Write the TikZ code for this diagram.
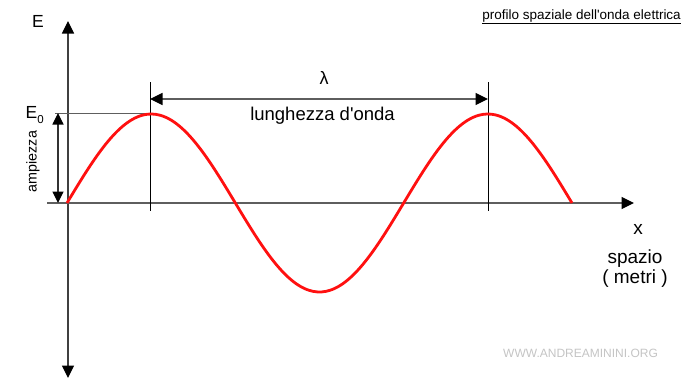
\documentclass[tikz,border=0pt]{standalone}
\usepackage{fontspec}
\setmainfont{Liberation Sans}
\newfontfamily\plainarial{Liberation Sans}
\usetikzlibrary{arrows.meta}
\definecolor{axisgray}{HTML}{5E5E5E}
\definecolor{wavered}{HTML}{FF1010}
\definecolor{markgray}{HTML}{C4C4C4}
\begin{document}
\begin{tikzpicture}[x=1pt,y=-1pt,
  tip/.tip={Triangle[length=12.5pt,width=12pt,color=black]},
  smalltip/.tip={Triangle[length=11.5pt,width=11pt,color=black]},
  axisline/.style={draw=axisgray,line width=1.2pt},
  guideline/.style={draw=black,line width=1pt},
  wave/.style={draw=wavered,line width=2.8pt},
  lbl/.style={inner sep=0pt,anchor=center,font=\plainarial\fontsize{19}{22}\selectfont},
  small/.style={inner sep=0pt,anchor=center,font=\plainarial\fontsize{13.5}{16}\selectfont}]
\useasboundingbox (0,0) rectangle (683,380);
% coordinates
\coordinate (yb) at (68,378);
\coordinate (yt) at (68,21);
\coordinate (xl) at (47,203);
\coordinate (xr) at (634,203);
\coordinate (p1t) at (150,82);
\coordinate (p1b) at (150,211);
\coordinate (p2t) at (488,82);
\coordinate (p2b) at (488,211);
\coordinate (la1) at (150,99);
\coordinate (la2) at (488,99);
\coordinate (e0l) at (55,113);
\coordinate (e0r) at (150,113);
\coordinate (am1) at (58,113);
\coordinate (am2) at (58,203);
% axes
\draw[axisline,draw=black!75,{tip}-{tip}] (yb) -- (yt);
\draw[axisline,-{tip}] (xl) -- (xr);
% guide lines
\draw[guideline] (p1t) -- (p1b);
\draw[guideline] (p2t) -- (p2b);
\draw[axisline,line width=1pt] (e0l) -- (e0r);
\draw[axisline,{tip}-{tip}] (la1) -- (la2);
\draw[axisline,draw=black!80,{smalltip}-{smalltip}] (am1) -- (am2);
% wave
\draw[wave] plot[smooth,domain=67:572,samples=120] (\x,{203-89*sin((\x-67)/336.67*360)});
% labels
\node[lbl,font=\plainarial\fontsize{17.5}{20}\selectfont] (E) at (38,21) {E};
\node[lbl,font=\plainarial\fontsize{17.5}{20}\selectfont,anchor=base west] (E0) at (25.5,118.5) {E\raisebox{-0.28em}{\fontsize{11.5}{12}\selectfont 0}};
\node[small,font=\plainarial\fontsize{14.3}{16}\selectfont,rotate=90] (amp) at (33,161.5) {ampiezza};
\node[lbl,font=\plainarial\fontsize{18}{20}\selectfont] (lam) at (324,78) {λ};
\node[lbl,font=\plainarial\fontsize{18.5}{22}\selectfont] (lo) at (322.5,116) {lunghezza d'onda};
\node[lbl] (xlab) at (638,229) {x};
\node[lbl] (sp) at (635,259) {spazio};
\node[lbl] (me) at (635,279) {( metri )};
\node[small,anchor=east] (title) at (681,17) {\underline{profilo spaziale dell'onda elettrica}};
\node[small,font=\plainarial\fontsize{12}{14}\selectfont,text=markgray] (wm) at (580.5,353) {WWW.ANDREAMININI.ORG};
\end{tikzpicture}
\end{document}
